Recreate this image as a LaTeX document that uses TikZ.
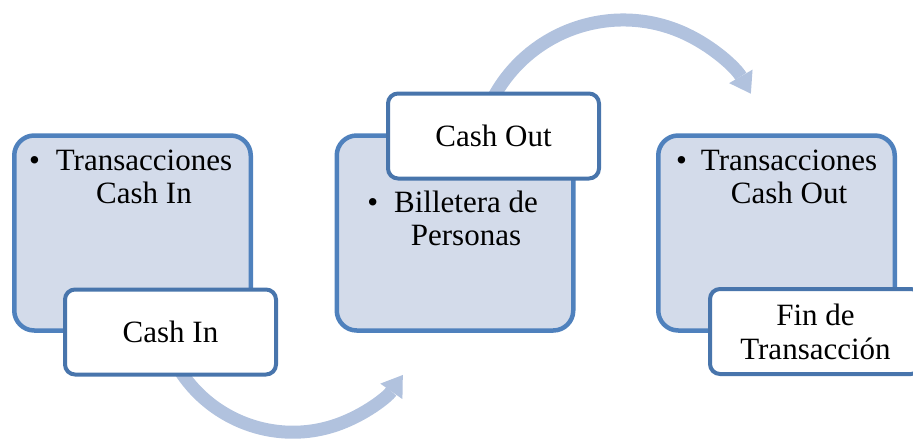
\documentclass[tikz,border=0pt]{standalone}
\usepackage{fontspec}
\setmainfont{Liberation Serif}
\usetikzlibrary{arrows.meta,calc}
\definecolor{bord}{RGB}{79,129,189}
\definecolor{sbord}{RGB}{72,117,172}
\definecolor{boxfill}{RGB}{211,219,234}
\definecolor{arrc}{RGB}{177,194,222}
\begin{document}
\begin{tikzpicture}[x=1pt,y=-1pt,
  bigbox/.style={draw=bord, line width=4.5pt, fill=boxfill, rounded corners=20pt,
    minimum width=236.5pt, minimum height=195pt, inner sep=0pt},
  smallbox/.style={draw=sbord, line width=4pt, fill=white, rounded corners=10pt,
    minimum width=211pt, minimum height=85pt, inner sep=0pt, align=center,
    font=\fontsize{31}{34}\selectfont},
  flow/.style={draw=arrc, line width=13pt,
    -{Triangle[width=27pt,length=20pt,line width=0pt]}},
  btext/.style={anchor=base, inner sep=0pt, font=\fontsize{31}{33}\selectfont}
]
\useasboundingbox (0,0) rectangle (913,442);
\clip (0,0) rectangle (913,442);

% flow arrows (behind boxes)
\coordinate (f1s) at ($(292.9,298)+(160:134.2)$);
\coordinate (f2s) at ($(623.2,167.4)+(205:147.4)$);
\draw[flow] (f1s) arc[start angle=160, end angle=35, radius=134.2];
\draw[flow] (f2s) arc[start angle=205, end angle=330, radius=147.4];

% big boxes
\node[bigbox] (b1) at (132.5,233) {};
\node[bigbox] (b2) at (455,233) {};
\node[bigbox] (b3) at (776.5,233) {};

% bullet texts
\node[btext] (t1) at (144,170) {\begin{tabular}[t]{@{}c@{}}\makebox[0pt][r]{\textbullet\hspace{16pt}}Transacciones\\Cash In\end{tabular}};
\node[btext] (t2) at (466,212) {\begin{tabular}[t]{@{}c@{}}\makebox[0pt][r]{\textbullet\hspace{16pt}}Billetera de\\Personas\end{tabular}};
\node[btext] (t3) at (789,170) {\begin{tabular}[t]{@{}c@{}}\makebox[0pt][r]{\textbullet\hspace{14pt}}Transacciones\\Cash Out\end{tabular}};

% small boxes
\node[smallbox] (s1) at (170.5,332) {Cash In};
\node[smallbox] (s2) at (493.5,136) {Cash Out};
\node[smallbox] (s3) at (815.5,331.5) {Fin de\\Transacción};
\end{tikzpicture}
\end{document}
